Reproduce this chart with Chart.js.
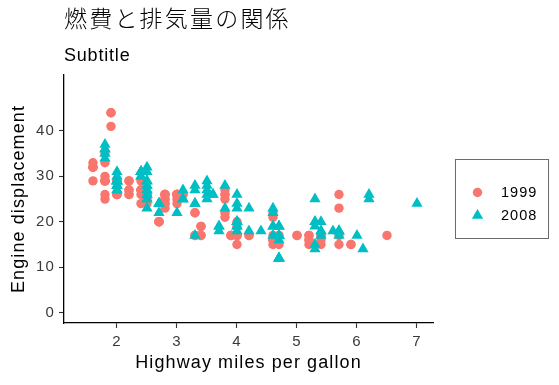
<!DOCTYPE html>
<html><head><meta charset="utf-8">
<script src="https://cdn.jsdelivr.net/npm/chart.js@4/dist/chart.umd.min.js"></script>
<style>html,body{margin:0;padding:0;background:#fff}#wrap{width:559px;height:385px;position:relative}canvas{display:block}</style>
</head><body><div id="wrap"><canvas id="c" width="559" height="385"></canvas></div>
<script>
const TITLE = '燃費と排気量の関係';
const SUBTITLE = 'Subtitle';
const X_TITLE = 'Highway miles per gallon';
const Y_TITLE = 'Engine displacement';
const SERIES = ['1999', '2008'];
const X_TICKS = [2, 3, 4, 5, 6, 7];
const Y_TICKS = [0, 10, 20, 30, 40];

const DISPL_1999 = [1.8,1.8,2.8,2.8,1.8,1.8,2.8,2.8,2.8,5.7,5.7,5.7,5.7,6.5,2.4,3.1,2.4,3.0,3.3,3.3,3.8,3.8,3.9,3.9,5.2,5.2,3.9,5.2,5.9,5.2,5.2,5.9,4.6,5.4,4.0,4.0,4.0,5.0,4.2,4.2,4.6,4.6,5.4,3.8,3.8,4.6,4.6,1.6,1.6,1.6,1.6,1.6,2.4,2.4,2.5,2.5,2.0,2.0,4.0,4.7,4.0,4.6,5.4,5.4,4.0,5.0,2.4,2.4,3.0,3.0,3.3,3.3,3.1,3.8,3.8,2.5,2.5,2.2,2.2,2.5,2.5,2.7,2.7,3.4,3.4,2.2,2.2,3.0,3.0,2.2,2.2,3.0,3.0,1.8,1.8,1.8,4.7,2.7,2.7,3.4,3.4,2.0,2.0,2.8,1.9,2.0,2.0,2.8,2.8,1.9,1.9,2.0,2.0,1.8,1.8,2.8,2.8];
const HWY_1999 = [29,29,26,26,26,25,25,25,24,17,26,23,15,17,27,26,24,24,22,22,22,21,17,17,17,17,17,16,15,15,16,15,17,17,17,19,17,17,17,17,16,16,15,26,25,21,22,33,32,32,29,32,26,27,26,26,26,29,20,17,15,15,17,16,17,17,29,27,26,25,17,17,26,26,27,25,24,26,26,26,26,20,20,19,17,29,27,26,26,27,29,26,26,30,33,35,15,20,20,17,19,29,26,24,44,29,26,23,24,44,41,29,26,29,29,26,26];

const DISPL_2008 = [2.0,2.0,3.1,2.0,2.0,3.1,3.1,3.1,4.2,5.3,5.3,5.3,6.0,6.2,6.2,7.0,5.3,5.3,2.4,3.5,3.6,3.3,3.3,3.3,3.8,4.0,3.7,3.7,4.7,4.7,4.7,4.7,4.7,4.7,5.7,4.7,4.7,4.7,4.7,4.7,5.7,5.4,4.0,4.6,4.6,5.4,4.0,4.0,4.6,4.6,5.4,1.8,1.8,1.8,2.0,2.4,2.4,3.3,2.0,2.0,2.7,2.7,2.7,3.0,3.7,4.7,4.7,5.7,6.1,4.2,4.4,5.4,4.0,4.6,2.5,2.5,3.5,3.5,3.5,4.0,5.6,3.8,5.3,2.5,2.5,2.5,2.5,2.5,2.5,2.5,2.5,4.0,4.7,2.4,2.4,3.5,2.4,2.4,3.3,1.8,1.8,5.7,2.7,4.0,4.0,2.0,2.0,2.0,2.0,2.5,2.5,2.5,2.5,2.0,2.0,3.6];
const HWY_2008 = [31,30,27,28,27,25,25,25,23,20,15,20,17,26,25,24,19,14,30,29,26,24,24,17,23,23,19,18,19,19,12,17,12,17,18,16,12,17,17,12,17,18,19,19,17,17,26,24,23,22,20,34,36,36,29,30,31,28,28,27,24,24,24,22,19,12,19,18,14,18,18,18,19,19,31,32,27,26,25,20,18,28,25,27,25,26,23,28,26,27,25,20,17,31,31,28,31,31,27,37,35,18,22,18,20,29,29,29,29,29,29,28,29,28,29,26];

const COLORS = ['#F8766D', '#00BFC4'];
const SANS = '"Liberation Sans", Arial, sans-serif';

function pts(xs, ys) { return xs.map((x, i) => ({ x: x, y: ys[i] })); }

const overlay = {
  id: 'overlay',
  beforeDraw(chart) {
    chart.ctx.letterSpacing = '1.1px';
  },
  afterDraw(chart) {
    const ctx = chart.ctx;
    ctx.save();
    ctx.textAlign = 'left';
    ctx.textBaseline = 'alphabetic';
    ctx.fillStyle = '#000';
    ctx.letterSpacing = '2.2px';
    ctx.font = '300 23px "Noto Sans CJK JP", sans-serif';
    ctx.fillText(TITLE, 64, 27);
    ctx.letterSpacing = '0.8px';
    ctx.font = '18px ' + SANS;
    ctx.fillText(SUBTITLE, 64, 61);
    // legend
    ctx.strokeStyle = '#6b6b6b';
    ctx.lineWidth = 1;
    ctx.strokeRect(455.5, 159.5, 93, 79);
    ctx.letterSpacing = '1px';
    ctx.font = '14.5px ' + SANS;
    ctx.textBaseline = 'middle';
    chart.data.datasets.forEach((ds, i) => {
      const y = 192.5 + i * 23;
      const x = 477.5;
      ctx.fillStyle = ds.backgroundColor;
      ctx.beginPath();
      if (ds.pointStyle === 'triangle') {
        const r = ds.pointRadius;
        for (let k = 0; k < 3; k++) {
          const a = k * 2 * Math.PI / 3;
          const px = x + Math.sin(a) * r, py = y - Math.cos(a) * r;
          if (k === 0) ctx.moveTo(px, py); else ctx.lineTo(px, py);
        }
        ctx.closePath();
      } else {
        ctx.arc(x, y, ds.pointRadius, 0, Math.PI * 2);
      }
      ctx.fill();
      ctx.fillStyle = '#000';
      ctx.fillText(ds.label, 501, y);
    });
    ctx.restore();
  }
};

new Chart(document.getElementById('c'), {
  type: 'scatter',
  data: {
    datasets: [
      { label: SERIES[0], data: pts(DISPL_1999, HWY_1999), backgroundColor: COLORS[0], borderWidth: 0,
        pointStyle: 'circle', pointRadius: 4.7, pointHoverRadius: 4.7, order: 1 },
      { label: SERIES[1], data: pts(DISPL_2008, HWY_2008), backgroundColor: COLORS[1], borderWidth: 0,
        pointStyle: 'triangle', pointRadius: 6.5, pointHoverRadius: 6.5, order: 0 }
    ]
  },
  options: {
    responsive: false,
    devicePixelRatio: 1,
    animation: false,
    events: [],
    layout: { padding: { top: 75, right: 126, bottom: 0, left: 0 } },
    plugins: { legend: { display: false }, tooltip: { enabled: false }, title: { display: false } },
    scales: {
      x: {
        type: 'linear', min: 1.117, max: 7.267,
        afterBuildTicks: s => { s.ticks = X_TICKS.map(v => ({ value: v })); },
        afterFit: s => { s.height = 62; },
        ticks: { font: { family: SANS, size: 15 }, color: '#3a3a3a', padding: 4.5, maxRotation: 0, autoSkip: false },
        grid: { display: true, drawOnChartArea: false, drawTicks: true, tickLength: 5, tickColor: '#333', tickWidth: 1.1 },
        border: { display: true, color: '#000', width: 1.3 },
        title: { display: true, text: X_TITLE, color: '#000', font: { family: SANS, size: 18 }, padding: { top: 0, bottom: 11.5 } }
      },
      y: {
        type: 'linear', min: -2.27, max: 52.3,
        afterBuildTicks: s => { s.ticks = Y_TICKS.map(v => ({ value: v })); },
        afterFit: s => { s.width = 64; },
        ticks: { font: { family: SANS, size: 15 }, color: '#3a3a3a', padding: 4, autoSkip: false },
        grid: { display: true, drawOnChartArea: false, drawTicks: true, tickLength: 5, tickColor: '#333', tickWidth: 1.1 },
        border: { display: true, color: '#000', width: 1.3 },
        title: { display: true, text: Y_TITLE, color: '#000', font: { family: SANS, size: 18 }, padding: { top: 8.4, bottom: 0 } }
      }
    }
  },
  plugins: [overlay]
});
</script>
</body></html>
